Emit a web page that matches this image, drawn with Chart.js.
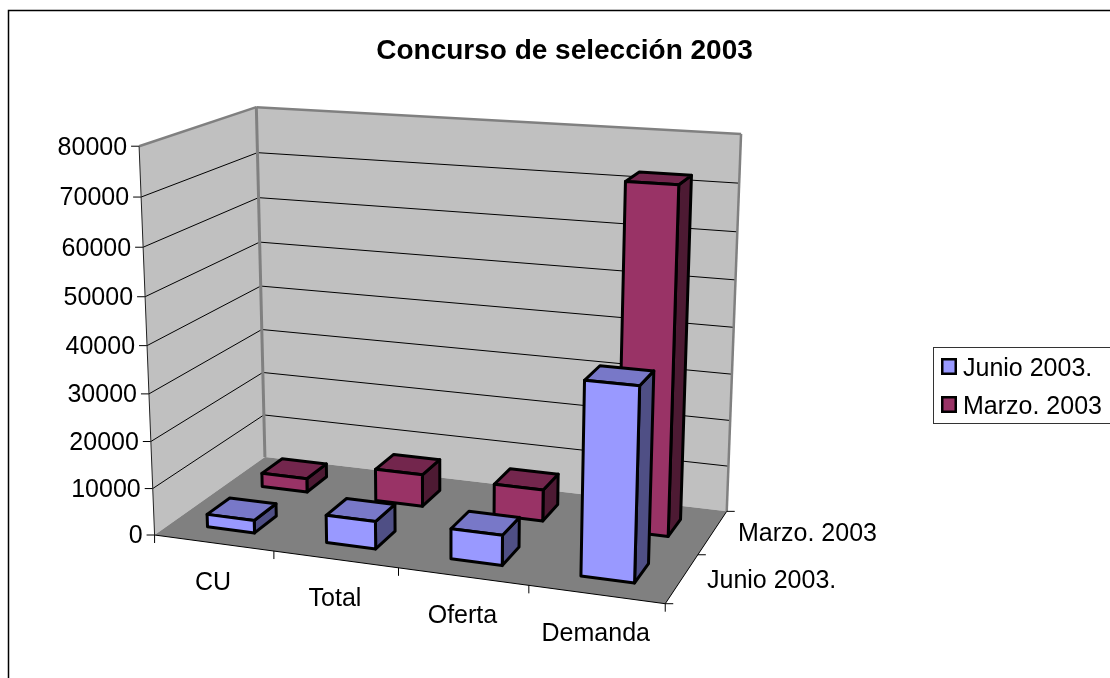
<!DOCTYPE html>
<html><head><meta charset="utf-8">
<script src="https://cdn.jsdelivr.net/npm/chart.js@4/dist/chart.umd.js"></script>
<style>html,body{margin:0;padding:0;background:#fff;overflow:hidden}canvas{display:block}</style>
</head><body><canvas id="c" width="1110" height="678"></canvas>
<script>
const categories = ['CU','Total','Oferta','Demanda'];
const seriesNames = ['Junio 2003.','Marzo. 2003'];
const junio = [2700,5800,6300,39300];
const marzo = [3000,7000,6800,72500];
const yTicksMax = 80000, yTicksStep = 10000;

// camera calibration of the 3D box: [u,v,w] -> screen
const calib = [
 [0,0,0,155,535],[1,0,0,665,604],[0,1,0,139,146],[0,0,1,264.5,457],
 [1,0,1,727,511],[0,1,1,256.5,107],[1,1,1,741,134],
 [0,.875,0,141,197],[0,.875,1,257.5,153]
];
function solveCamera(pts){
  const A=[],b=[];
  pts.forEach(([u,v,w,x,y])=>{
    A.push([u,v,w,1,0,0,0,0,-x*u,-x*v,-x*w]);b.push(x);
    A.push([0,0,0,0,u,v,w,1,-y*u,-y*v,-y*w]);b.push(y);
  });
  const n=11,M=[];
  for(let i=0;i<n;i++){M[i]=[];for(let j=0;j<=n;j++){let s=0;A.forEach((r,k)=>{s+=r[i]*(j<n?r[j]:b[k]);});M[i][j]=s;}}
  for(let c=0;c<n;c++){
    let p=c;for(let r=c+1;r<n;r++)if(Math.abs(M[r][c])>Math.abs(M[p][c]))p=r;
    [M[c],M[p]]=[M[p],M[c]];
    for(let r=0;r<n;r++){if(r===c)continue;const f=M[r][c]/M[c][c];for(let j=c;j<=n;j++)M[r][j]-=f*M[c][j];}
  }
  return M.map((r,i)=>r[n]/r[i]);
}
const P=solveCamera(calib);
function proj(u,v,w){
  const d=P[8]*u+P[9]*v+P[10]*w+1;
  return [(P[0]*u+P[1]*v+P[2]*w+P[3])/d,(P[4]*u+P[5]*v+P[6]*w+P[7])/d];
}
function poly(ctx,pts,fill,stroke,lw){
  ctx.beginPath();pts.forEach((p,i)=>i?ctx.lineTo(p[0],p[1]):ctx.moveTo(p[0],p[1]));
  ctx.closePath();
  if(fill){ctx.fillStyle=fill;ctx.fill();}
  if(stroke){ctx.strokeStyle=stroke;ctx.lineWidth=lw;ctx.lineJoin='round';ctx.stroke();}
}
function line(ctx,a,b,col,lw){ctx.beginPath();ctx.moveTo(a[0],a[1]);ctx.lineTo(b[0],b[1]);ctx.strokeStyle=col;ctx.lineWidth=lw;ctx.stroke();}

const FONT='"Liberation Sans",Arial,sans-serif';
const faceShades=[
 {front:'#9999FF',top:'#7878C8',side:'#4F4F85'},
 {front:'#993366',top:'#73264D',side:'#4D1A33'}
];
const depthW=.2; // bar depth inside the box

const box3d={
  id:'box3d',
  beforeDraw(chart){
    const x=chart.scales.x,y=chart.scales.y,ctx=chart.ctx;
    ctx.save();ctx.strokeStyle='#000';ctx.lineWidth=1.5;ctx.strokeRect(8.5,10.5,1200,800);ctx.restore();
    // move the library's tick labels onto the projected axes
    y.getLabelItems(chart.chartArea).forEach((it,i)=>{
      const v=(y.bottom-y.getPixelForValue(y.ticks[i].value))/y.height;
      const p=proj(0,v,0);
      it.textOffset=0;it.options.translation=[p[0]-12,p[1]+1.5];it.options.textAlign='right';it.options.textBaseline='middle';
    });
    x.getLabelItems(chart.chartArea).forEach((it,i)=>{
      const u=(x.getPixelForValue(i)-x.left)/x.width;
      const p=proj(u,0,0);
      it.textOffset=0;it.options.translation=[p[0]-.5,p[1]+40];it.options.textAlign='center';it.options.textBaseline='middle';
    });
    // legend location
    const L=chart.legend;L.left=928.5;L.right=1110;L.top=347-10;L.bottom=423+16;
  },
  beforeDatasetsDraw(chart){
    const ctx=chart.ctx,y=chart.scales.y;
    ctx.save();
    const c=proj;
    poly(ctx,[c(0,0,0),c(0,1,0),c(0,1,1),c(0,0,1)],'#C0C0C0');
    poly(ctx,[c(0,0,1),c(0,1,1),c(1,1,1),c(1,0,1)],'#C0C0C0');
    poly(ctx,[c(0,0,0),c(0,0,1),c(1,0,1),c(1,0,0)],'#808080');
    y.ticks.forEach(t=>{
      const v=(y.bottom-y.getPixelForValue(t.value))/y.height;
      if(v>0&&v<1){
        line(ctx,c(0,v,0),c(0,v,1),'#000',1);
        line(ctx,c(0,v,1),c(1,v,1),'#000',1);
      }
      const a=c(0,v,0);line(ctx,[a[0]-8,a[1]],a,'#000',1);
    });
    line(ctx,c(0,1,0),c(0,1,1),'#808080',2.5);
    line(ctx,c(0,1,1),c(1,1,1),'#808080',2.5);
    line(ctx,c(1,1,1),c(1,0,1),'#808080',2.5);
    line(ctx,c(0,0,1),c(0,1,1),'#808080',3);
    line(ctx,c(0,0,0),c(0,1,0),'#222',1);
    line(ctx,c(0,0,0),c(1,0,0),'#000',1);
    line(ctx,c(1,0,0),c(1,0,1),'#000',1);
    for(let i=0;i<=categories.length;i++){const a=c(i/categories.length,0,0);line(ctx,a,[a[0],a[1]+8],'#000',1);}
    for(let i=0;i<=seriesNames.length;i++){const a=c(1,0,i/seriesNames.length);line(ctx,a,[a[0]+8,a[1]],'#000',1);}
    ctx.restore();
    // bars, read from the library's bar elements, back series first
    const x=chart.scales.x;
    [1,0].forEach(ds=>{
      const meta=chart.getDatasetMeta(ds),sh=faceShades[ds];
      const wc=(ds+.5)/seriesNames.length;
      meta.data.forEach(el=>{
        const uc=(el.x-x.left)/x.width,hw=el.width/2/x.width;
        const v=(y.bottom-el.y)/y.height,v0=(y.bottom-el.base)/y.height;
        const u0=uc-hw,u1=uc+hw,w0=wc-depthW/2,w1=wc+depthW/2;
        ctx.save();
        poly(ctx,[c(u1,v0,w0),c(u1,v,w0),c(u1,v,w1),c(u1,v0,w1)],sh.side,'#000',3);
        poly(ctx,[c(u0,v,w0),c(u0,v,w1),c(u1,v,w1),c(u1,v,w0)],sh.top,'#000',3);
        poly(ctx,[c(u0,v0,w0),c(u0,v,w0),c(u1,v,w0),c(u1,v0,w0)],sh.front,'#000',3);
        ctx.restore();
      });
    });
    return false;
  },
  afterDraw(chart){
    const ctx=chart.ctx;ctx.save();
    ctx.strokeStyle='#333';ctx.lineWidth=1;ctx.strokeRect(933.5,347.5,300,76);
    [0,1].forEach(i=>{
      ctx.fillStyle=faceShades[i].front;ctx.strokeStyle='#000';ctx.lineWidth=2.5;
      ctx.beginPath();ctx.rect(942.25,359.25+i*38,13.5,14.5);ctx.fill();ctx.stroke();
    });
    // series labels on the depth axis
    ctx.fillStyle='#000';ctx.font='25px '+FONT;ctx.textBaseline='middle';ctx.textAlign='left';
    ctx.fillText(seriesNames[1],738,534);ctx.fillText(seriesNames[0],707,581);
    ctx.restore();
  }
};

new Chart(document.getElementById('c'),{
  type:'bar',
  data:{labels:categories,datasets:[
    {label:seriesNames[0],data:junio,backgroundColor:faceShades[0].front,borderColor:'#000',borderWidth:1},
    {label:seriesNames[1],data:marzo,backgroundColor:faceShades[1].front,borderColor:'#000',borderWidth:1}
  ]},
  plugins:[box3d],
  options:{
    responsive:false,animation:false,
    font:{family:FONT},
    layout:{padding:{left:19}},
    datasets:{bar:{grouped:false,categoryPercentage:.4,barPercentage:1}},
    plugins:{
      tooltip:{enabled:false},
      title:{display:true,text:'Concurso de selección 2003',color:'#000',
        font:{family:FONT,size:28,weight:'bold'},padding:{top:34,bottom:60}},
      legend:{position:'right',labels:{color:'#000',boxWidth:9,boxHeight:9,padding:13,
        font:{family:FONT,size:25}}}
    },
    scales:{
      x:{grid:{display:false},border:{display:false},
        ticks:{mirror:true,color:'#000',autoSkip:false,maxRotation:0,font:{family:FONT,size:25}}},
      y:{min:0,max:yTicksMax,grid:{display:false},border:{display:false},
        ticks:{mirror:true,stepSize:yTicksStep,color:'#000',callback:v=>String(v),font:{family:FONT,size:25}}}
    }
  }
});
</script>
</body></html>
